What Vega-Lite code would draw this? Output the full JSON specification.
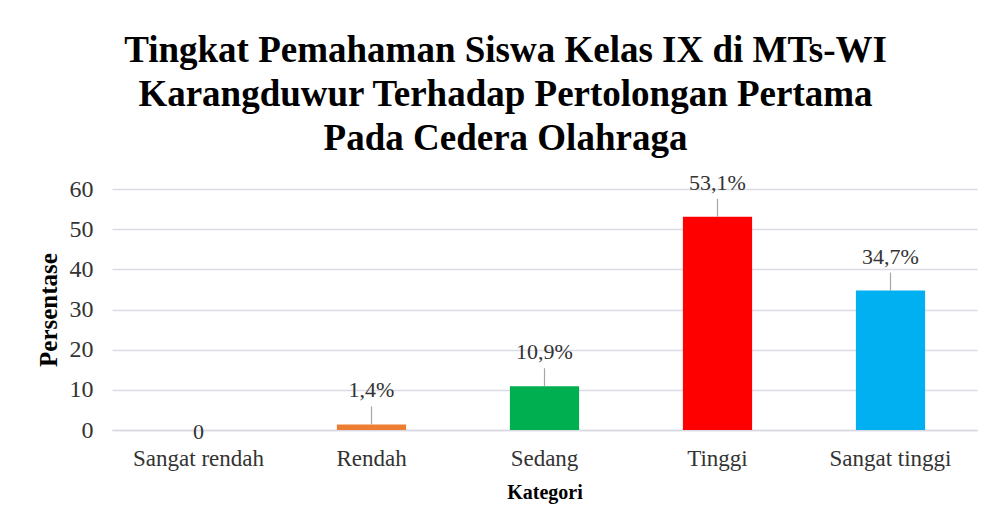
{
  "$schema": "https://vega.github.io/schema/vega-lite/v6.json",
  "autosize": {"type": "none"},
  "width": 865,
  "height": 241,
  "padding": {"left": 112, "top": 189, "right": 18, "bottom": 101},
  "background": "white",
  "config": {
    "view": {"stroke": null},
    "font": "Liberation Serif"
  },
  "title": {
    "text": ["Tingkat Pemahaman Siswa Kelas IX di MTs-WI", "Karangduwur Terhadap Pertolongan Pertama", "Pada Cedera Olahraga"],
    "font": "Liberation Serif",
    "fontSize": 37,
    "fontWeight": "bold",
    "color": "#000000",
    "lineHeight": 44,
    "anchor": "middle",
    "dx": -39,
    "offset": 14
  },
  "data": {
    "values": [
      {"kategori": "Sangat rendah", "nilai": 0, "label": "0"},
      {"kategori": "Rendah", "nilai": 1.4, "label": "1,4%"},
      {"kategori": "Sedang", "nilai": 10.9, "label": "10,9%"},
      {"kategori": "Tinggi", "nilai": 53.1, "label": "53,1%"},
      {"kategori": "Sangat tinggi", "nilai": 34.7, "label": "34,7%"}
    ]
  },
  "encoding": {
    "x": {
      "field": "kategori",
      "type": "nominal",
      "sort": null,
      "scale": {"paddingInner": 0.6, "paddingOuter": 0.3},
      "axis": {
        "title": "Kategori",
        "titleFont": "Liberation Serif",
        "titleFontSize": 20,
        "titleFontWeight": "bold",
        "titleColor": "#000000",
        "titlePadding": 12,
        "labelFont": "Liberation Serif",
        "labelFontSize": 23,
        "labelColor": "#333333",
        "labelAngle": 0,
        "labelPadding": 17,
        "ticks": false,
        "domain": true,
        "domainColor": "#d9d9e3",
        "domainWidth": 1.5
      }
    },
    "y": {
      "field": "nilai",
      "type": "quantitative",
      "scale": {"domain": [0, 60]},
      "axis": {
        "title": "Persentase",
        "titleFont": "Liberation Serif",
        "titleFontSize": 25,
        "titleFontWeight": "bold",
        "titleColor": "#000000",
        "titlePadding": 8,
        "labelFont": "Liberation Serif",
        "labelFontSize": 24,
        "labelColor": "#333333",
        "labelPadding": 19,
        "values": [0, 10, 20, 30, 40, 50, 60],
        "ticks": false,
        "domain": false,
        "gridColor": "#dcdce6",
        "gridWidth": 1.5
      }
    }
  },
  "layer": [
    {
      "mark": {"type": "bar"},
      "encoding": {
        "color": {
          "field": "kategori",
          "type": "nominal",
          "scale": {
            "domain": ["Sangat rendah", "Rendah", "Sedang", "Tinggi", "Sangat tinggi"],
            "range": ["#4472c4", "#ed7d31", "#00b050", "#ff0000", "#00b0f0"]
          },
          "legend": null
        }
      }
    },
    {
      "transform": [{"filter": "datum.nilai > 0"}],
      "mark": {"type": "rule", "color": "#a6a6a6", "strokeWidth": 1.2, "y2Offset": -18},
      "encoding": {
        "y2": {"field": "nilai"}
      }
    },
    {
      "transform": [{"filter": "datum.nilai > 0"}],
      "mark": {"type": "text", "baseline": "middle", "dy": -34, "fontSize": 22, "font": "Liberation Serif", "color": "#333333"},
      "encoding": {
        "text": {"field": "label"}
      }
    },
    {
      "transform": [{"filter": "datum.nilai == 0"}],
      "mark": {"type": "text", "baseline": "middle", "dy": 2, "fontSize": 22, "font": "Liberation Serif", "color": "#333333"},
      "encoding": {
        "text": {"field": "label"}
      }
    }
  ]
}
